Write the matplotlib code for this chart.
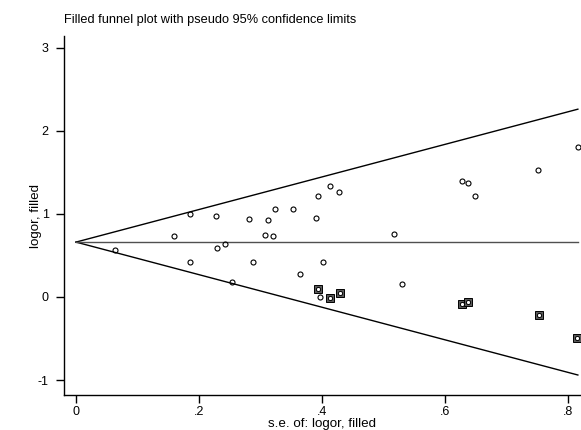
import matplotlib
matplotlib.use("Agg")
import matplotlib.pyplot as plt
import numpy as np

plt.rcParams["font.family"] = ["Liberation Sans", "DejaVu Sans"]

# pooled estimate (centre of the funnel)
THETA = 0.66
SE_MAX = 0.816

# observed studies: standard error, log odds ratio
se_obs = [0.063, 0.160, 0.186, 0.186, 0.227, 0.229, 0.242, 0.254, 0.281,
          0.287, 0.307, 0.313, 0.321, 0.324, 0.353, 0.365, 0.390, 0.393,
          0.396, 0.401, 0.413, 0.428, 0.517, 0.530, 0.627, 0.637,
          0.649, 0.751, 0.816]
lo_obs = [0.568, 0.728, 1.00, 0.424, 0.98, 0.592, 0.64, 0.178, 0.94,
          0.424, 0.74, 0.929, 0.728, 1.057, 1.057, 0.271, 0.948, 1.218,
          -0.006, 0.424, 1.33, 1.258, 0.756, 0.159, 1.398, 1.37,
          1.21, 1.53, 1.807]

# filled (imputed) studies
se_fill = [0.394, 0.413, 0.429, 0.627, 0.638, 0.752, 0.815]
lo_fill = [0.099, -0.018, 0.050, -0.087, -0.058, -0.219, -0.496]

xticks = [0, 0.2, 0.4, 0.6, 0.8]
xticklabels = ["0", ".2", ".4", ".6", ".8"]
yticks = [-1, 0, 1, 2, 3]

FS = 9          # tick labels
FS_TITLE = 9.2
FS_AXIS = 9.6


def main():
    fig = plt.figure(figsize=(5.81, 4.30), dpi=100)
    ax = fig.add_axes([64 / 581, 35 / 430, 517 / 581, 359 / 430])

    # pseudo 95% limits
    se_line = np.array([0, SE_MAX])
    ax.plot(se_line, THETA + 1.96 * se_line, color="black", lw=1.0)
    ax.plot(se_line, THETA - 1.96 * se_line, color="black", lw=1.0)
    ax.plot(se_line, [THETA, THETA], color="#505050", lw=1.0)

    ax.plot(se_fill, lo_fill, ls="none", marker="s", ms=5.2,
            mfc="#5a5a5a", mec="black", mew=0.7, clip_on=False)
    ax.plot(se_fill, lo_fill, ls="none", marker="o", ms=3.0,
            mfc="white", mec="black", mew=0.7, clip_on=False)
    ax.plot(se_obs, lo_obs, ls="none", marker="o", ms=3.6,
            mfc="none", mec="black", mew=0.8, clip_on=False)

    ax.set_xlim(-0.0195, 0.8211)
    ax.set_ylim(-1.18, 3.14)
    ax.set_xticks(xticks)
    ax.set_xticklabels(xticklabels)
    ax.set_yticks(yticks)
    ax.set_yticklabels([str(v) for v in yticks])

    for s in ("top", "right"):
        ax.spines[s].set_visible(False)
    ax.spines["left"].set_linewidth(1.0)
    ax.spines["bottom"].set_linewidth(1.0)
    ax.tick_params(axis="x", length=6, width=1, pad=2, labelsize=FS)
    ax.tick_params(axis="y", length=6, width=1, pad=5, labelsize=FS)

    ax.set_xlabel("s.e. of: logor, filled", fontsize=FS_AXIS)
    ax.xaxis.set_label_coords(0.5, -0.064)
    ax.set_ylabel("logor, filled", fontsize=FS_AXIS, labelpad=-3)
    ax.set_title("Filled funnel plot with pseudo 95% confidence limits",
                 fontsize=FS_TITLE, loc="left", pad=9)

    fig.savefig("out.png", dpi=100)
    plt.close(fig)


if __name__ == "__main__":
    main()
